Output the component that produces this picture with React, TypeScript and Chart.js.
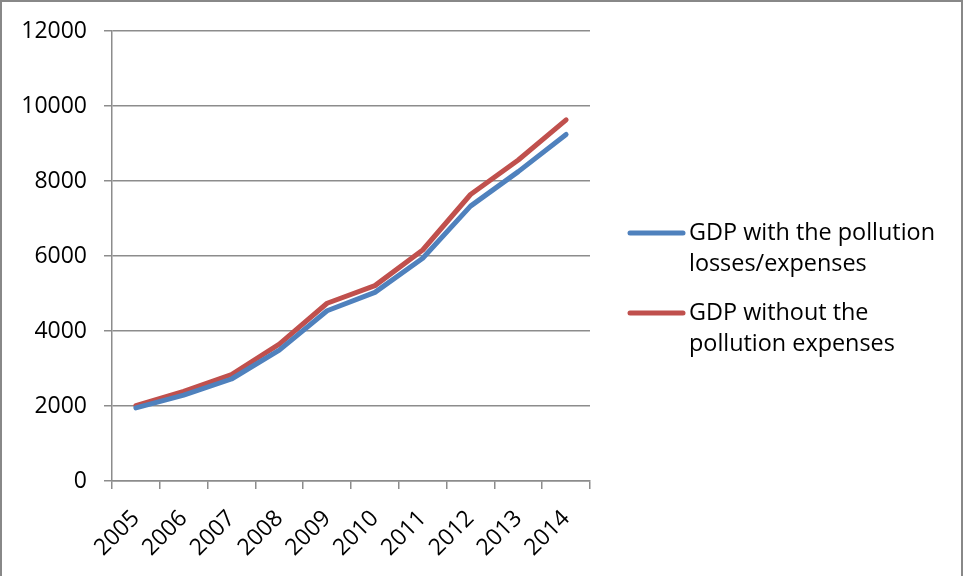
import React, { useEffect, useRef } from "react";
import { Chart, registerables } from "chart.js";

Chart.register(...registerables);

// Years on the category axis
const years = ["2005", "2006", "2007", "2008", "2009", "2010", "2011", "2012", "2013", "2014"];

// GDP series
const gdpWithLosses = [1950, 2290, 2720, 3490, 4540, 5030, 5940, 7330, 8250, 9240];
const gdpWithoutExpenses = [2010, 2390, 2840, 3650, 4740, 5210, 6160, 7640, 8560, 9630];

const seriesNames = [
  "GDP with the pollution losses/expenses",
  "GDP without the pollution expenses",
];
// Legend text broken into the lines it is drawn on
const legendLines = [
  ["GDP with the pollution", "losses/expenses"],
  ["GDP without the", "pollution expenses"],
];

const yMin = 0;
const yMax = 12000;
const yStep = 2000;

const BLUE = "#4F81BD";
const RED = "#C0504D";
const GRID = "#8c8c8c";
const FONT = "'Open Sans', sans-serif";

const legendPlugin = {
  id: "wrappedLegend",
  afterDraw(chart: any) {
    const ctx = chart.ctx as CanvasRenderingContext2D;
    const area = chart.chartArea;
    const x0 = area.right + 40;
    const lineLen = 53;
    const textX = x0 + lineLen + 6;
    const lineGap = 31;
    const firstY = 233;
    const entryGap = 80;
    ctx.save();
    chart.data.datasets.forEach((ds: any, i: number) => {
      const y = firstY + i * entryGap;
      ctx.strokeStyle = ds.borderColor;
      ctx.lineWidth = 5;
      ctx.lineCap = "round";
      ctx.beginPath();
      ctx.moveTo(x0, y);
      ctx.lineTo(x0 + lineLen, y);
      ctx.stroke();
      ctx.fillStyle = "#000";
      ctx.font = `23.4px ${FONT}`;
      ctx.textBaseline = "middle";
      ctx.textAlign = "left";
      legendLines[i].forEach((t, j) => ctx.fillText(t, textX, y + j * lineGap));
    });
    ctx.restore();
  },
};

const framePlugin = {
  id: "frame",
  afterDraw(chart: any) {
    const ctx = chart.ctx as CanvasRenderingContext2D;
    ctx.save();
    ctx.strokeStyle = "#888888";
    ctx.lineWidth = 2;
    ctx.strokeRect(1, 1, chart.width - 2, chart.height + 4);
    ctx.restore();
  },
};

export default function App() {
  const canvasRef = useRef<HTMLCanvasElement | null>(null);

  useEffect(() => {
    document.body.style.margin = "0";
    const canvas = canvasRef.current;
    if (!canvas) return;
    const chart = new Chart(canvas, {
      type: "line",
      data: {
        labels: years,
        datasets: [
          {
            label: seriesNames[0],
            data: gdpWithLosses,
            borderColor: BLUE,
            backgroundColor: BLUE,
            borderWidth: 5,
            pointRadius: 0,
            tension: 0,
            borderJoinStyle: "round",
            borderCapStyle: "round",
          },
          {
            label: seriesNames[1],
            data: gdpWithoutExpenses,
            borderColor: RED,
            backgroundColor: RED,
            borderWidth: 5,
            pointRadius: 0,
            tension: 0,
            borderJoinStyle: "round",
            borderCapStyle: "round",
          },
        ],
      },
      options: {
        animation: false,
        responsive: false,
        maintainAspectRatio: false,
        layout: { padding: { top: 31, right: 373, bottom: 0, left: 0 } },
        plugins: {
          legend: { display: false },
          tooltip: { enabled: false },
          title: { display: false },
        },
        scales: {
          x: {
            type: "category",
            offset: true,
            grid: {
              offset: true,
              drawOnChartArea: false,
              drawTicks: true,
              tickLength: 8,
              color: GRID,
              lineWidth: 1.5,
            },
            border: { display: true, color: GRID, width: 1.5 },
            ticks: {
              color: "#000",
              font: { family: FONT, size: 23 },
              maxRotation: 45,
              minRotation: 45,
              autoSkip: false,
              padding: 16,
            },
            afterFit(scale: any) {
              scale.height = 95;
            },
          },
          y: {
            min: yMin,
            max: yMax,
            grid: {
              color: GRID,
              lineWidth: 1.5,
              tickLength: 8,
            },
            border: { display: true, color: GRID, width: 1.5 },
            ticks: {
              stepSize: yStep,
              color: "#000",
              font: { family: FONT, size: 23 },
              padding: 17,
              callback: (v: any) => String(v),
            },
            afterFit(scale: any) {
              scale.width = 112;
            },
          },
        },
      },
      plugins: [legendPlugin, framePlugin],
    });
    return () => chart.destroy();
  }, []);

  return (
    <div style={{ position: "absolute", left: 0, top: 0, width: 963, height: 576, background: "#fff" }}>
      <canvas ref={canvasRef} width={963} height={576} style={{ width: 963, height: 576 }} />
    </div>
  );
}
